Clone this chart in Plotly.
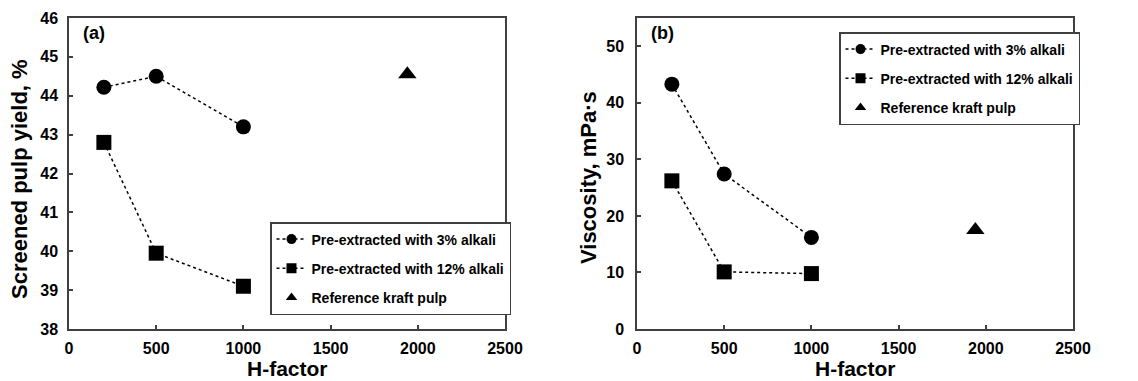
import plotly.graph_objects as go

h_factor = [200, 500, 1000]
ref_h_factor = [1940]

yield_3pct = [44.22, 44.5, 43.2]
yield_12pct = [42.8, 39.95, 39.1]
yield_ref = [44.55]

visc_3pct = [43.3, 27.4, 16.2]
visc_12pct = [26.2, 10.1, 9.8]
visc_ref = [17.5]

names = ["Pre-extracted with 3% alkali", "Pre-extracted with 12% alkali", "Reference kraft pulp"]

FONT = "Liberation Sans, Arial, sans-serif"
AX = "#404040"

fig = go.Figure()

def add_panel(xa, ya, leg, s3, s12, sref):
    line = dict(color="black", width=1.5, dash="dot")
    fig.add_trace(go.Scatter(x=h_factor, y=s3, mode="lines+markers", name=names[0],
                             line=line, marker=dict(symbol="circle", size=15, color="black"),
                             xaxis=xa, yaxis=ya, showlegend=False))
    fig.add_trace(go.Scatter(x=h_factor, y=s12, mode="lines+markers", name=names[1],
                             line=line, marker=dict(symbol="square", size=15, color="black"),
                             xaxis=xa, yaxis=ya, showlegend=False))
    fig.add_trace(go.Scatter(x=ref_h_factor, y=sref, mode="markers", name=names[2],
                             marker=dict(symbol="triangle-up", size=16, color="black"),
                             xaxis=xa, yaxis=ya, showlegend=False))
    # legend entries (smaller symbols, as in the reference)
    for nm, sym, md, g in [(names[0], "circle", "lines+markers", "a"),
                           (names[1], "square", "lines+markers", "b"),
                           (names[2], "triangle-up", "markers", "c")]:
        fig.add_trace(go.Scatter(x=[None], y=[None], mode=md, name=nm,
                                 line=line, marker=dict(symbol=sym, size=10, color="black"),
                                 xaxis=xa, yaxis=ya, legend=leg, legendgroup=leg + g))

add_panel("x", "y", "legend", yield_3pct, yield_12pct, yield_ref)
add_panel("x2", "y2", "legend2", visc_3pct, visc_12pct, visc_ref)

W, H = 1138, 381
ydom = [(H - 329) / H, (H - 18) / H]
xdom1 = [69 / W, 505 / W]
xdom2 = [637 / W, 1073 / W]

axis_common = dict(showline=True, linecolor=AX, linewidth=1.5, mirror=True,
                   ticks="inside", ticklen=4, tickcolor=AX, tickwidth=1.5,
                   showgrid=False, zeroline=False, automargin=False,
                   tickfont=dict(family=FONT, size=16, color="black", weight="bold"))

xticks = [0, 500, 1000, 1500, 2000, 2500]
ytitle_font = dict(family=FONT, size=22, weight="bold", color="black")
xtitle_font = dict(family=FONT, size=21, weight="bold", color="black")

fig.update_layout(
    template="none",
    width=W, height=H,
    margin=dict(l=0, r=0, t=0, b=0),
    paper_bgcolor="white", plot_bgcolor="white",
    font=dict(family=FONT, color="black"),
    xaxis=dict(domain=xdom1, range=[0, 2500], tickvals=xticks, ticklabelstandoff=4,
               anchor="y", **axis_common),
    yaxis=dict(domain=ydom, range=[38, 46], dtick=1, ticklabelstandoff=6,
               anchor="x", **axis_common),
    xaxis2=dict(domain=xdom2, range=[0, 2500], tickvals=xticks, ticklabelstandoff=4,
                anchor="y2", **axis_common),
    yaxis2=dict(domain=ydom, range=[0, 55], tickvals=[0, 10, 20, 30, 40, 50], ticklabelstandoff=8,
                anchor="x2", **axis_common),
    legend=dict(x=270 / W, y=1 - 222 / H, xanchor="left", yanchor="top",
                bordercolor=AX, borderwidth=1.5, bgcolor="white",
                traceorder="grouped", tracegroupgap=8,
                font=dict(family=FONT, size=14, color="black", weight="bold")),
    legend2=dict(x=839 / W, y=1 - 32 / H, xanchor="left", yanchor="top",
                 bordercolor=AX, borderwidth=1.5, bgcolor="white",
                 traceorder="grouped", tracegroupgap=8,
                 font=dict(family=FONT, size=14, color="black", weight="bold")),
    annotations=[
        dict(text="(a)", x=81 / W, y=1 - 33 / H, xref="paper", yref="paper",
             xanchor="left", yanchor="middle", showarrow=False,
             font=dict(family=FONT, size=18, weight="bold", color="black")),
        dict(text="(b)", x=649 / W, y=1 - 33 / H, xref="paper", yref="paper",
             xanchor="left", yanchor="middle", showarrow=False,
             font=dict(family=FONT, size=18, weight="bold", color="black")),
        dict(text="H-factor", x=sum(xdom1) / 2, y=0, xref="paper", yref="paper",
             xanchor="center", yanchor="bottom", yshift=-1, showarrow=False, font=xtitle_font),
        dict(text="H-factor", x=sum(xdom2) / 2, y=0, xref="paper", yref="paper",
             xanchor="center", yanchor="bottom", yshift=-1, showarrow=False, font=xtitle_font),
        dict(text="Screened pulp yield, %", x=19 / W, y=1 - 179 / H, xref="paper", yref="paper",
             xanchor="center", yanchor="middle", textangle=-90, showarrow=False, font=ytitle_font),
        dict(text="Viscosity, mPa·s", x=588 / W, y=1 - 178 / H, xref="paper", yref="paper",
             xanchor="center", yanchor="middle", textangle=-90, showarrow=False, font=ytitle_font),
    ],
)

fig.write_html("out.html", config={"displayModeBar": False},
               post_script="document.body.style.margin='0';document.body.style.overflow='hidden';")
